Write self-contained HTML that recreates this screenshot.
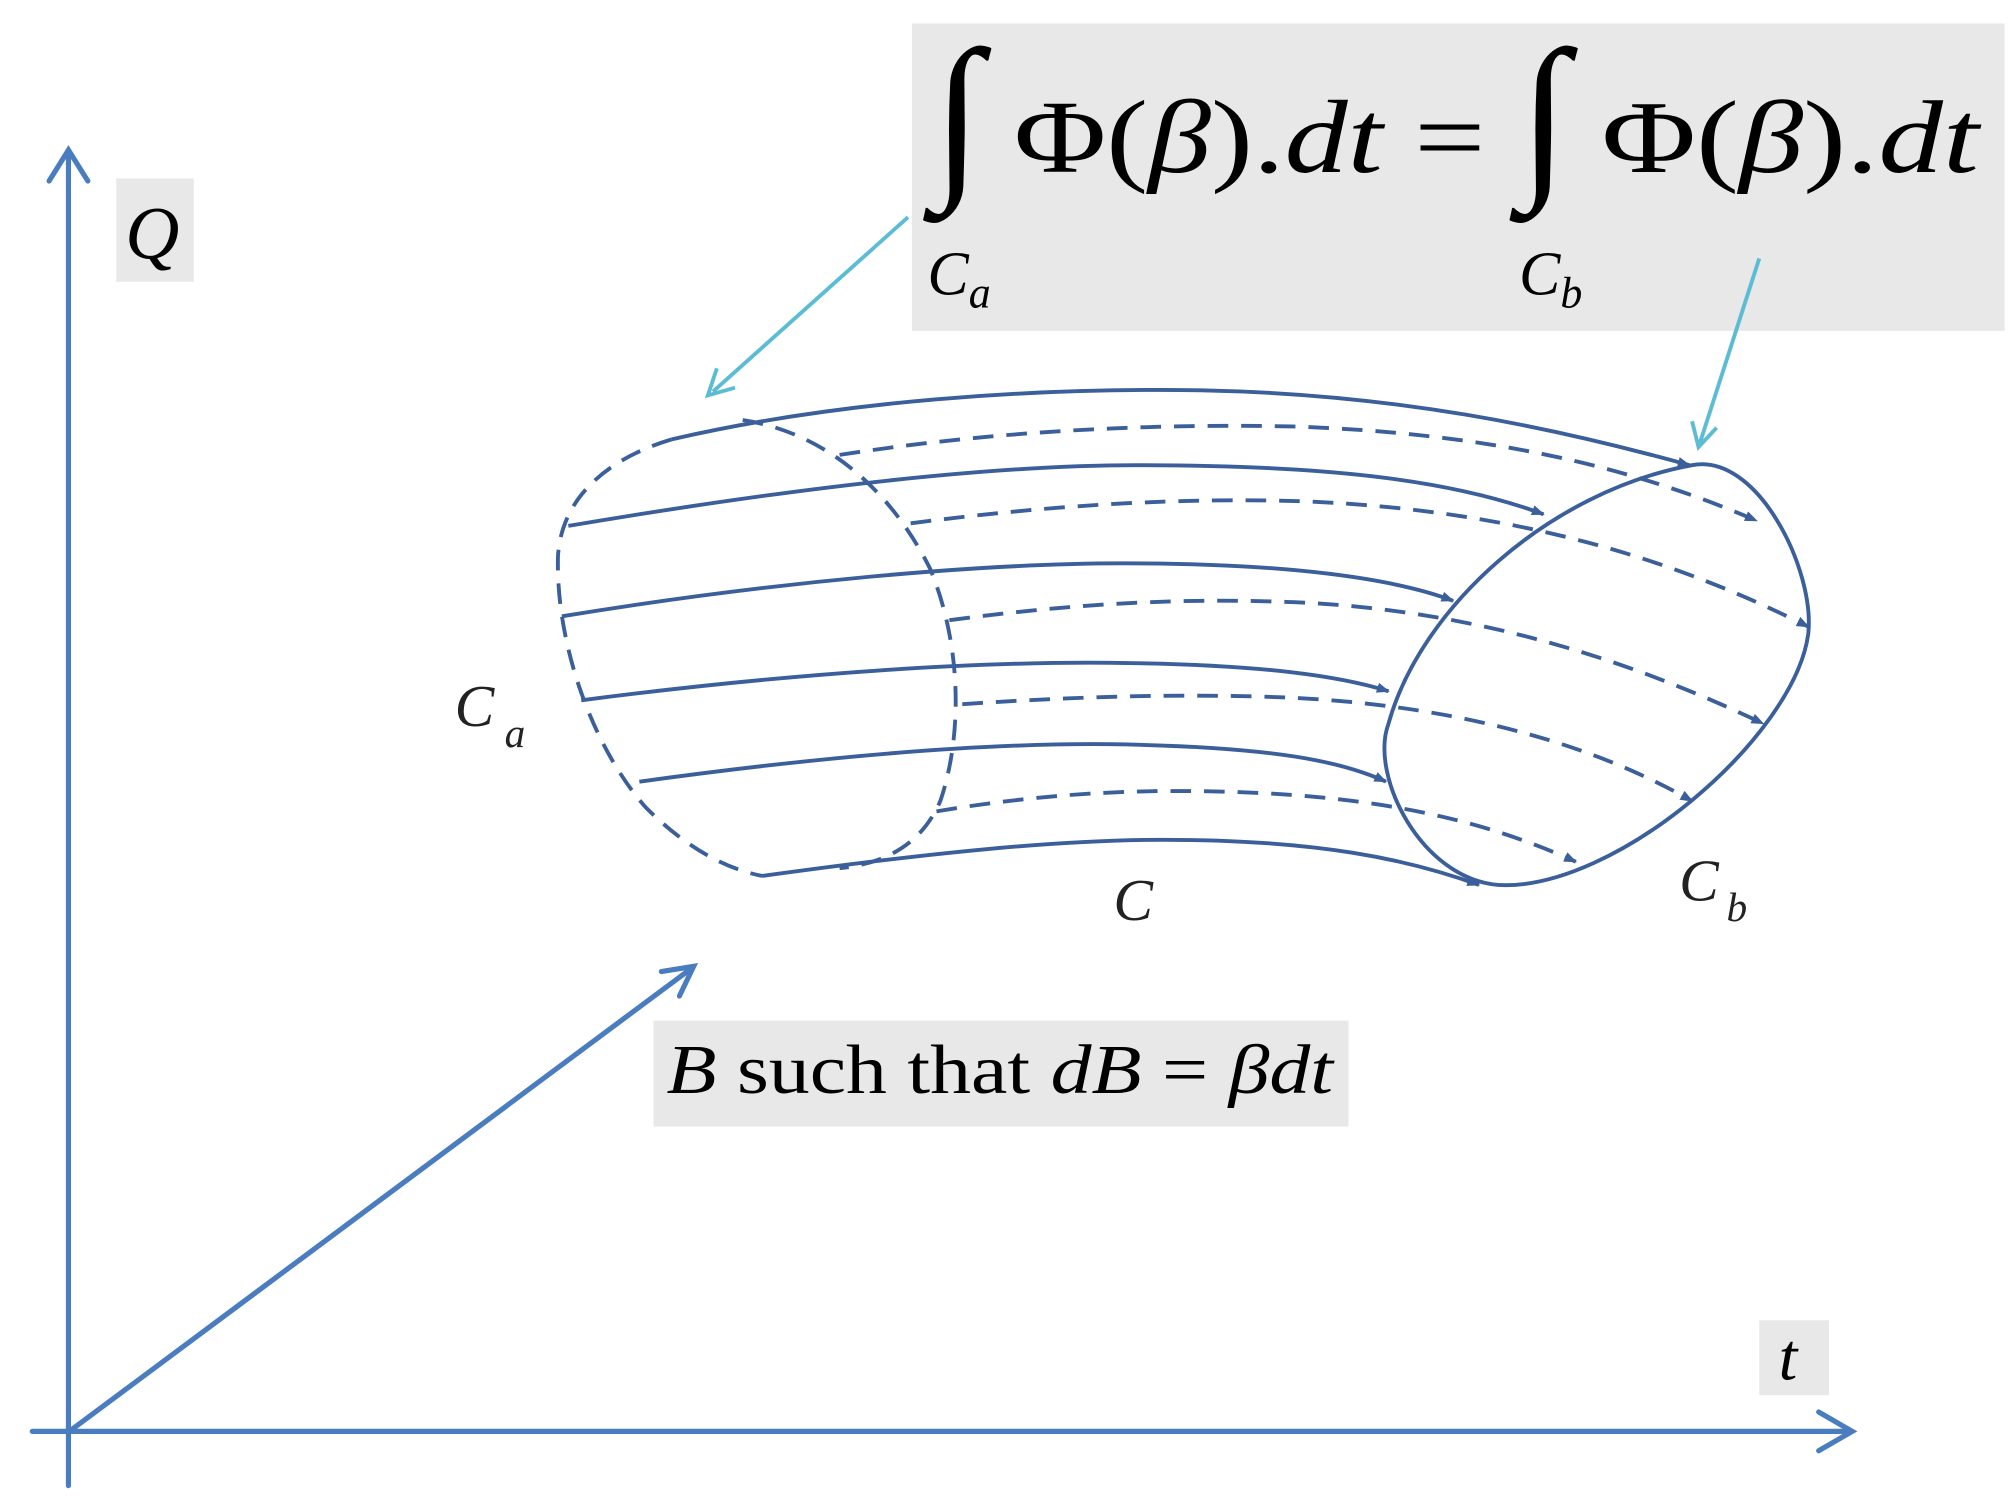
<!DOCTYPE html>
<html><head><meta charset="utf-8"><style>html,body{margin:0;padding:0;background:#fff}svg{display:block}</style></head>
<body>
<svg width="2015" height="1500" viewBox="0 0 1560 1161" xmlns="http://www.w3.org/2000/svg" font-family="Liberation Serif, serif">
<defs>
<marker id="ah" markerWidth="10" markerHeight="8" refX="9" refY="4" orient="auto" markerUnits="userSpaceOnUse"><path d="M0,0 L10,4 L0,8 z" fill="#3a5f9a"/></marker>
</defs>
<g stroke="#4a7cc0" stroke-width="4" fill="none" stroke-linecap="round">
<line x1="53" y1="1150" x2="53" y2="118"/>
<polyline points="38,140 53,116 68,140"/>
<line x1="25" y1="1108" x2="1433" y2="1108"/>
<polyline points="1408,1093 1434,1108 1408,1123"/>
<line x1="55" y1="1107" x2="536" y2="749"/>
<polyline points="512,752 537,748 526,771"/>
</g>
<rect x="90" y="138" width="60" height="80" fill="#e8e8e8"/>
<text x="97" y="200" font-size="58" font-style="italic">Q</text>
<rect x="1362" y="1022" width="54" height="58" fill="#e8e8e8"/>
<text x="1377" y="1068" font-size="52" font-style="italic">t</text>
<rect x="706" y="18" width="846" height="238" fill="#e8e8e8"/>
<text x="722" y="135" font-size="140">∫</text>
<text x="785" y="133" font-size="80" textLength="365" lengthAdjust="spacingAndGlyphs">Φ(<tspan font-style="italic">β</tspan>).<tspan font-style="italic">dt</tspan> =</text>
<text x="1176" y="135" font-size="140">∫</text>
<text x="1240" y="133" font-size="80" textLength="292" lengthAdjust="spacingAndGlyphs">Φ(<tspan font-style="italic">β</tspan>).<tspan font-style="italic">dt</tspan></text>
<text x="718" y="228" font-size="48" font-style="italic">C<tspan font-size="34" dy="10">a</tspan></text>
<text x="1176" y="228" font-size="48" font-style="italic">C<tspan font-size="34" dy="10">b</tspan></text>
<rect x="506" y="790" width="538" height="82" fill="#e8e8e8"/>
<text x="516" y="846" font-size="54" textLength="516" lengthAdjust="spacingAndGlyphs"><tspan font-style="italic">B</tspan> such that <tspan font-style="italic">dB</tspan> = <tspan font-style="italic">βdt</tspan></text>
<g stroke="#5bbcd4" stroke-width="3" fill="none">
<line x1="703" y1="168" x2="552" y2="303"/>
<polyline points="555,285 548,306 569,300"/>
<line x1="1362" y1="200" x2="1316" y2="343"/>
<polyline points="1310,326 1315,346 1329,331"/>
</g>
<g stroke="#3a5f9a" stroke-width="3" fill="none">
<path d="M1310,360 C1360,350 1405,440 1400,490 C1390,570 1250,690 1160,685 C1100,680 1060,600 1075,560 C1100,470 1200,380 1310,360 Z"/>
<g marker-end="url(#ah)">
<path d="M520,340 C650,310 800,300 930,302 C1080,305 1200,330 1308,360"/>
<path d="M440,407 C600,380 760,360 880,360 C1020,360 1120,370 1195,398"/>
<path d="M435,477 C600,450 760,436 870,436 C1000,436 1080,448 1125,465"/>
<path d="M450,542 C620,520 760,512 860,513 C980,514 1040,524 1075,535"/>
<path d="M495,605 C640,585 760,575 860,576 C990,578 1040,590 1073,605"/>
<path d="M590,678 C720,660 820,650 900,650 C1020,650 1090,665 1145,685"/>
</g>
<g stroke-dasharray="16,10" marker-end="url(#ah)">
<path d="M650,352 C780,332 900,328 1000,330 C1150,335 1260,360 1360,403"/>
<path d="M705,405 C820,390 920,385 1010,388 C1180,395 1300,435 1400,485"/>
<path d="M735,480 C840,466 920,463 1000,466 C1150,472 1270,515 1365,560"/>
<path d="M745,545 C850,538 930,537 1000,540 C1140,547 1240,580 1310,620"/>
<path d="M725,628 C820,612 900,610 980,614 C1090,620 1160,640 1220,667"/>
</g>
<path stroke-dasharray="16,10" d="M520,340 C470,355 435,385 432,430 C430,500 460,580 500,625 C530,655 560,672 590,678"/>
<path stroke-dasharray="16,10" d="M575,325 C640,335 690,380 720,440 C745,500 745,570 728,620 C715,650 690,668 650,672"/>
</g>
<text x="352" y="562" font-size="46" font-style="italic" fill="#222">C<tspan font-size="32" dx="8" dy="16">a</tspan></text>
<text x="862" y="712" font-size="46" font-style="italic" fill="#222">C</text>
<text x="1300" y="697" font-size="46" font-style="italic" fill="#222">C<tspan font-size="32" dx="6" dy="16">b</tspan></text>
</svg>
</body></html>
